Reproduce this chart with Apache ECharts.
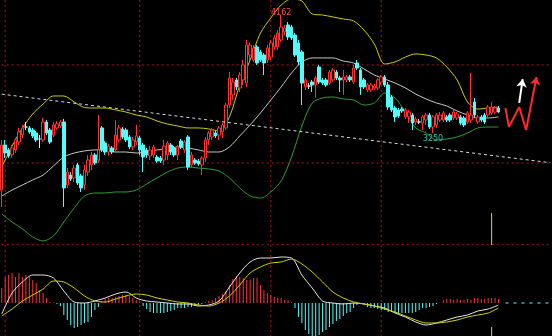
<!DOCTYPE html>
<html><head><meta charset="utf-8">
<style>html,body{margin:0;padding:0;background:#000;}#c{width:552px;height:336px;}</style>
<script src="https://cdn.jsdelivr.net/npm/echarts@6/dist/echarts.min.js"></script>
</head><body><div id="c"></div>
<script>
const N_SLOTS = 160;
const openP = [2809,3157,3119,3080,3119,3180,3234,3296,3289,3273,3250,3204,3196,3335,3273,3234,3289,3304,3335,2848,2925,2902,3003,2918,2848,2948,3003,3080,3041,3289,3173,3103,3134,3119,3196,3281,3273,3219,3142,3180,3211,3157,3119,3072,3080,3064,3057,3041,3080,3157,3134,3080,3188,3119,3219,3003,3041,3033,3003,3057,3196,3219,3250,3234,3258,3289,3466,3544,3660,3598,3660,3636,3853,3814,3915,3876,3853,3814,3837,3915,3915,3969,4031,4085,4069,4007,3946,3876,3606,3613,3644,3621,3760,3660,3660,3636,3660,3721,3675,3660,3660,3683,3644,3791,3737,3660,3582,3582,3598,3598,3644,3683,3621,3528,3443,3428,3435,3374,3374,3389,3335,3335,3327,3350,3389,3296,3312,3350,3350,3374,3389,3366,3366,3374,3366,3335,3350,3490,3335,3374,3389,3389,3405,3412,3443];
const closeP = [3157,3095,3072,3134,3196,3258,3289,3296,3258,3227,3196,3204,3335,3250,3180,3312,3320,3335,2825,2948,2894,2979,2863,2825,2964,3041,3080,3018,3119,3119,3103,3149,3103,3234,3289,3219,3196,3142,3196,3227,3119,3064,3080,3119,3142,3033,3033,3149,3173,3103,3080,3142,3142,3180,2987,3080,3018,3010,3057,3196,3250,3273,3227,3289,3312,3466,3675,3644,3606,3698,3776,3930,3930,3907,3791,3814,3791,3907,3946,3984,4023,4069,4062,3992,3984,3853,3799,3636,3660,3613,3621,3675,3644,3636,3621,3721,3737,3675,3660,3683,3683,3660,3752,3752,3606,3606,3621,3621,3613,3660,3683,3621,3451,3428,3374,3381,3420,3428,3412,3327,3358,3335,3374,3389,3296,3374,3389,3389,3405,3350,3350,3412,3397,3327,3312,3405,3389,3389,3374,3350,3335,3451,3451,3443,3412];
const lowP = [2678,3057,3057,3057,3095,3157,3211,3273,3242,3211,3180,3134,3180,3234,3165,3219,3273,3289,2678,2825,2879,2871,2848,2794,2809,2918,2964,3003,3018,3103,3080,3072,3088,3095,3180,3204,3180,3126,3119,3157,3080,2948,3057,3041,3057,3018,3018,3003,3041,3080,3064,3041,3126,3095,2964,2987,3003,2995,2925,3026,3157,3196,3211,3196,3211,3273,3443,3505,3582,3567,3621,3606,3814,3799,3776,3799,3698,3791,3814,3892,3892,3953,4007,3969,3969,3837,3776,3466,3582,3590,3567,3521,3629,3621,3606,3621,3644,3660,3567,3544,3644,3644,3629,3737,3544,3590,3567,3567,3582,3582,3621,3606,3428,3412,3335,3366,3405,3358,3327,3273,3312,3320,3273,3312,3281,3250,3289,3335,3335,3335,3335,3350,3350,3312,3296,3320,3327,3374,3320,3335,3320,3374,3389,3397,3405];
const highP = [3196,3196,3134,3157,3211,3289,3312,3335,3304,3289,3265,3234,3366,3350,3289,3335,3343,3350,3358,2979,2948,3003,3018,2933,3003,3080,3103,3095,3389,3304,3188,3165,3149,3350,3312,3296,3289,3234,3219,3312,3227,3173,3134,3149,3157,3080,3072,3196,3188,3173,3149,3157,3204,3196,3234,3103,3057,3049,3072,3219,3265,3289,3265,3304,3327,3482,3721,3675,3675,3721,3814,3969,3953,3930,3930,3892,3868,3930,3969,4007,4046,4162,4085,4108,4085,4023,3969,3892,3675,3636,3660,3691,3776,3675,3675,3737,3752,3737,3691,3737,3698,3698,3776,3814,3752,3675,3636,3636,3629,3675,3698,3698,3644,3544,3459,3443,3451,3443,3428,3405,3374,3358,3389,3405,3405,3389,3405,3412,3420,3389,3405,3428,3412,3389,3381,3420,3714,3521,3389,3389,3405,3466,3490,3459,3459];

const bandIdx = [0,3,6,9,12,15,18,21,24,27,30,33,36,39,42,45,48,51,54,57,60,63,66,69,72,75,78,81,84,87,90,93,96,99,102,105,108,111,114,117,120,123,126,129,132,135,138,141,144];
const upperBand = [2987,3149,3289,3397,3474,3536,3536,3490,3447,3443,3443,3428,3412,3389,3374,3343,3320,3304,3289,3289,3281,3265,3374,3621,3814,4023,4139,4239,4286,4270,4170,4162,4147,4131,4116,4046,3938,3783,3799,3837,3861,3853,3830,3760,3660,3490,3435,3443,3451];
const midBand = [2763,2809,2848,2887,2925,2995,3064,3095,3111,3119,3119,3103,3103,3095,3103,3119,3126,3142,3134,3119,3103,3103,3142,3227,3312,3405,3505,3606,3714,3799,3830,3830,3830,3806,3791,3745,3698,3667,3636,3598,3551,3513,3482,3459,3420,3389,3366,3366,3374];
const lowerBand = [2624,2562,2508,2446,2415,2454,2562,2670,2763,2786,2786,2794,2794,2809,2856,2902,2948,2979,2987,2979,2972,2956,2902,2825,2763,2747,2794,2879,3064,3304,3482,3521,3528,3513,3505,3466,3482,3559,3521,3412,3289,3250,3196,3204,3219,3250,3289,3296,3296];

const macdHist = [15,26,28,30,26,30,26,28,26,23,20,13,10,5,1,
  0.5,-1,-3,
  -12,-17,-22,-25,-24,-22,-20,-19,-14,-7,-4,
  2,4,5,5,6,7,8,8,7,5,3,1,
  -3,-6,-9,-10,-10,-10,-10,-9,-8,-7,-5,
  -5,-5,-4,-4,-3,-2,-1,
  1,2,3,5,7,9,12,18,24,27,26,25,23,23,25,25,18,13,10,8,6,5,5,3,3,1,
  -5,-14,-20,-27,-31,-34,-33,-32,-29,-27,-24,-21,-18,-16,-13,-10,-9,-5,-2,-1,-1,
  -4,-5,-5,-6,-7,-7,-9,-9,-10,-10,-10,-10,-10,-10,-9,-7,-5,-5,-4,-3,-1,0.5,
  3,4,4,3,4,3,3,4,3,5,5,4,4,5,5,5,4];
const difVals = [-11,10,21,28,28,25,12,1,0,2,5,9,11,5,2,1,0,-1,-1,-3,-2,2,16,30,41,45,45,46,45,28,15,2,0,-1,0,-1,-3,-5,-10,-14,-19,-22,-20,-17,-14,-12,-8,-6,-2];
const deaVals = [-13,-6,2,8,14,22,21,15,7,2,1,4,7,9,8,5,3,1,0,-2,-3,0,7,18,30,36,40,41,44,39,31,21,11,5,1,-1,-3,-6,-9,-13,-17,-20,-20,-19,-17,-14,-12,-10,-5];

const gridPrices = [3776, 3018];
const separatorPrice = 2386;
const vGridIdx = [1, 40, 78, 110];
const trendIdx = [0, 159];
const trendP = [3550, 3020];
const redArrowIdx = [146, 147, 150, 152, 155];
const redArrowP = [3443, 3296, 3451, 3273, 3683];
const whiteArrowIdx = [150, 151];
const whiteArrowP = [3482, 3667];
const markerIdx = 142;
const markerMainP = [2631, 2384];
const markerMacd = [-24, -33];
const futureZeroIdx = [146, 159];
const highLabel = {idx: 81, price: 4162, text: '4162'};
const lowLabel = {idx: 125, price: 3250, text: '3250'};

const cats = Array.from({length: N_SLOTS}, (_, i) => String(i));
function spread(idx, vals) { const a = new Array(N_SLOTS).fill(null); idx.forEach((k, j) => { a[k] = vals[j]; }); return a; }
const candles = openP.map((o, i) => [o, closeP[i], lowP[i], highP[i]]);

const RED = '#ff3232', CYAN = '#54fcfc', GRID = '#b01818', YEL = '#e0e000';
function straight(panel, a, b, color, dash, z) {
  return {type: 'line', xAxisIndex: panel, yAxisIndex: panel, data: [a, b], symbol: 'none', showSymbol: false,
          silent: true, z: z || 1, animation: false, lineStyle: {color: color, type: dash, width: 1}};
}
const lineSeries = [
  ...vGridIdx.map(i => straight(0, [cats[i], 4278], [cats[i], 2384], GRID, [2, 3])),
  ...vGridIdx.map(i => straight(1, [cats[i], 58], [cats[i], -33], GRID, [2, 3])),
  ...gridPrices.map(p => straight(0, [cats[0], p], [cats[N_SLOTS - 1], p], GRID, [2, 3])),
  straight(0, [cats[0], separatorPrice], [cats[N_SLOTS - 1], separatorPrice], GRID, [2, 3]),
  straight(0, [cats[trendIdx[0]], trendP[0]], [cats[trendIdx[1]], trendP[1]], '#dcdcdc', [3, 3], 4),
  straight(0, [cats[markerIdx], markerMainP[0]], [cats[markerIdx], markerMainP[1]], YEL, 'solid', 4),
  straight(1, [cats[markerIdx], markerMacd[0]], [cats[markerIdx], markerMacd[1]], YEL, 'solid', 4),
  straight(1, [cats[futureZeroIdx[0]], 0], [cats[futureZeroIdx[1]], 0], CYAN, [3, 5], 4)
];
function seg(a, b, style, endSymbol) {
  return [{coord: a, symbol: 'none', lineStyle: style}, {coord: b, symbol: endSymbol || 'none', symbolSize: 8}];
}
const arrowAnno = [
  ...redArrowIdx.slice(0, -1).map((k, j) => seg([cats[k], redArrowP[j]], [cats[redArrowIdx[j + 1]], redArrowP[j + 1]],
      {color: '#ff2a2a', width: 2, type: 'solid'}, j === redArrowIdx.length - 2 ? 'arrow' : 'none')),
  seg([cats[whiteArrowIdx[0]], whiteArrowP[0]], [cats[whiteArrowIdx[1]], whiteArrowP[1]], {color: '#ffffff', width: 2, type: 'solid'}, 'arrow')
];

const chart = echarts.init(document.getElementById('c'));
chart.setOption({
  backgroundColor: '#000',
  animation: false,
  grid: [
    {left: 0, right: 0, top: 0, height: 245},
    {left: 0, right: 0, top: 245, bottom: 0}
  ],
  xAxis: [
    {type: 'category', data: cats, gridIndex: 0, boundaryGap: true, show: false},
    {type: 'category', data: cats, gridIndex: 1, boundaryGap: true, show: false}
  ],
  yAxis: [
    {type: 'value', gridIndex: 0, min: 2384, max: 4278, show: false},
    {type: 'value', gridIndex: 1, min: -33, max: 58, show: false}
  ],
  series: [
    ...lineSeries,
    {type: 'line', xAxisIndex: 0, yAxisIndex: 0, data: [], z: 4,
     markLine: {silent: true, animation: false, label: {show: false}, symbol: ['none', 'none'], data: arrowAnno}},
    {
      type: 'candlestick', xAxisIndex: 0, yAxisIndex: 0, data: candles, barWidth: 3, z: 3,
      itemStyle: {color: '#000', color0: CYAN, borderColor: RED, borderColor0: CYAN, borderColorDoji: '#e8e8e8', borderWidth: 1},
      markPoint: {
        silent: true, animation: false, symbol: 'circle', symbolSize: 0,
        data: [
          {coord: [cats[highLabel.idx], highLabel.price], label: {show: true, position: 'top', distance: 1, offset: [0, 3], formatter: highLabel.text, color: '#ff4a4a', fontSize: 8, fontFamily: 'DejaVu Sans'}},
          {coord: [cats[lowLabel.idx], lowLabel.price], label: {show: true, position: 'bottom', distance: 2, formatter: lowLabel.text, color: '#33c0b0', fontSize: 8, fontFamily: 'DejaVu Sans'}}
        ]
      }
    },
    {type: 'line', xAxisIndex: 0, yAxisIndex: 0, z: 2, data: spread(bandIdx, upperBand), connectNulls: true, showSymbol: false, smooth: 0.3, lineStyle: {color: '#cccc10', width: 1}},
    {type: 'line', xAxisIndex: 0, yAxisIndex: 0, z: 2, data: spread(bandIdx, midBand), connectNulls: true, showSymbol: false, smooth: 0.3, lineStyle: {color: '#c8c8c8', width: 1}},
    {type: 'line', xAxisIndex: 0, yAxisIndex: 0, z: 2, data: spread(bandIdx, lowerBand), connectNulls: true, showSymbol: false, smooth: 0.3, lineStyle: {color: '#2ea02e', width: 1}},
    {
      type: 'bar', xAxisIndex: 1, yAxisIndex: 1, barWidth: 1, z: 2,
      data: macdHist.map(v => ({value: v, itemStyle: {color: v >= 0 ? RED : CYAN}}))
    },
    {type: 'line', xAxisIndex: 1, yAxisIndex: 1, z: 3, data: spread(bandIdx, difVals), connectNulls: true, showSymbol: false, smooth: 0.3, lineStyle: {color: '#e6e6e6', width: 1}},
    {type: 'line', xAxisIndex: 1, yAxisIndex: 1, z: 3, data: spread(bandIdx, deaVals), connectNulls: true, showSymbol: false, smooth: 0.3, lineStyle: {color: '#d2d200', width: 1}}
  ]
});
</script>
</body></html>
